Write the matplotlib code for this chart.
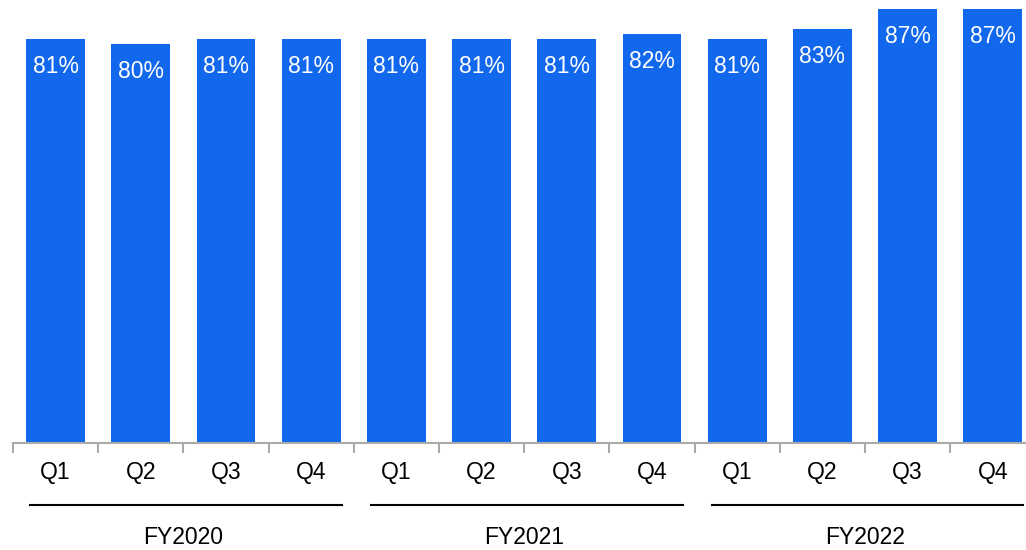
import numpy as np
import matplotlib.pyplot as plt
from matplotlib.transforms import blended_transform_factory

plt.rcParams['font.family'] = ['Liberation Sans', 'DejaVu Sans']

quarters = ["Q1", "Q2", "Q3", "Q4"] * 3
years = ["FY2020", "FY2021", "FY2022"]
values = [81, 80, 81, 81, 81, 81, 81, 82, 81, 83, 87, 87]

fig = plt.figure(figsize=(10.26, 5.5), dpi=100)
ax = fig.add_axes([13 / 1026, 107 / 550, 12 * 85.2 / 1026, 443 / 550])

x = np.arange(len(values))
ax.bar(x, values, width=0.69, color="#1268EC")
for xi, v in zip(x, values):
    ax.text(xi, v - 5.5, f"{v}%", ha="center", va="center", color="white", fontsize=16.5)

ax.set_xlim(-0.5, len(values) - 0.5)
ax.set_ylim(0, 88.8)
ax.set_yticks([])
for s in ["top", "right", "left"]:
    ax.spines[s].set_visible(False)
ax.spines["bottom"].set_color("#aaaaaa")
ax.spines["bottom"].set_linewidth(1.5)

ax.set_xticks(x)
ax.set_xticklabels(quarters, fontsize=16.5)
ax.tick_params(axis="x", which="major", length=0, pad=13)
ax.set_xticks(np.arange(len(values) + 1) - 0.5, minor=True)
ax.tick_params(axis="x", which="minor", length=7, width=1.5, color="#aaaaaa")

trans = blended_transform_factory(ax.transData, ax.transAxes)
for g, name in enumerate(years):
    ax.plot([g * 4 - 0.3, g * 4 + 3.36], [-62 / 443, -62 / 443], color="black",
            lw=1.5, transform=trans, clip_on=False)
    ax.text(g * 4 + 1.5, -95 / 443, name, ha="center", va="center",
            fontsize=16.5, transform=trans)

fig.savefig("out.png", dpi=100)
